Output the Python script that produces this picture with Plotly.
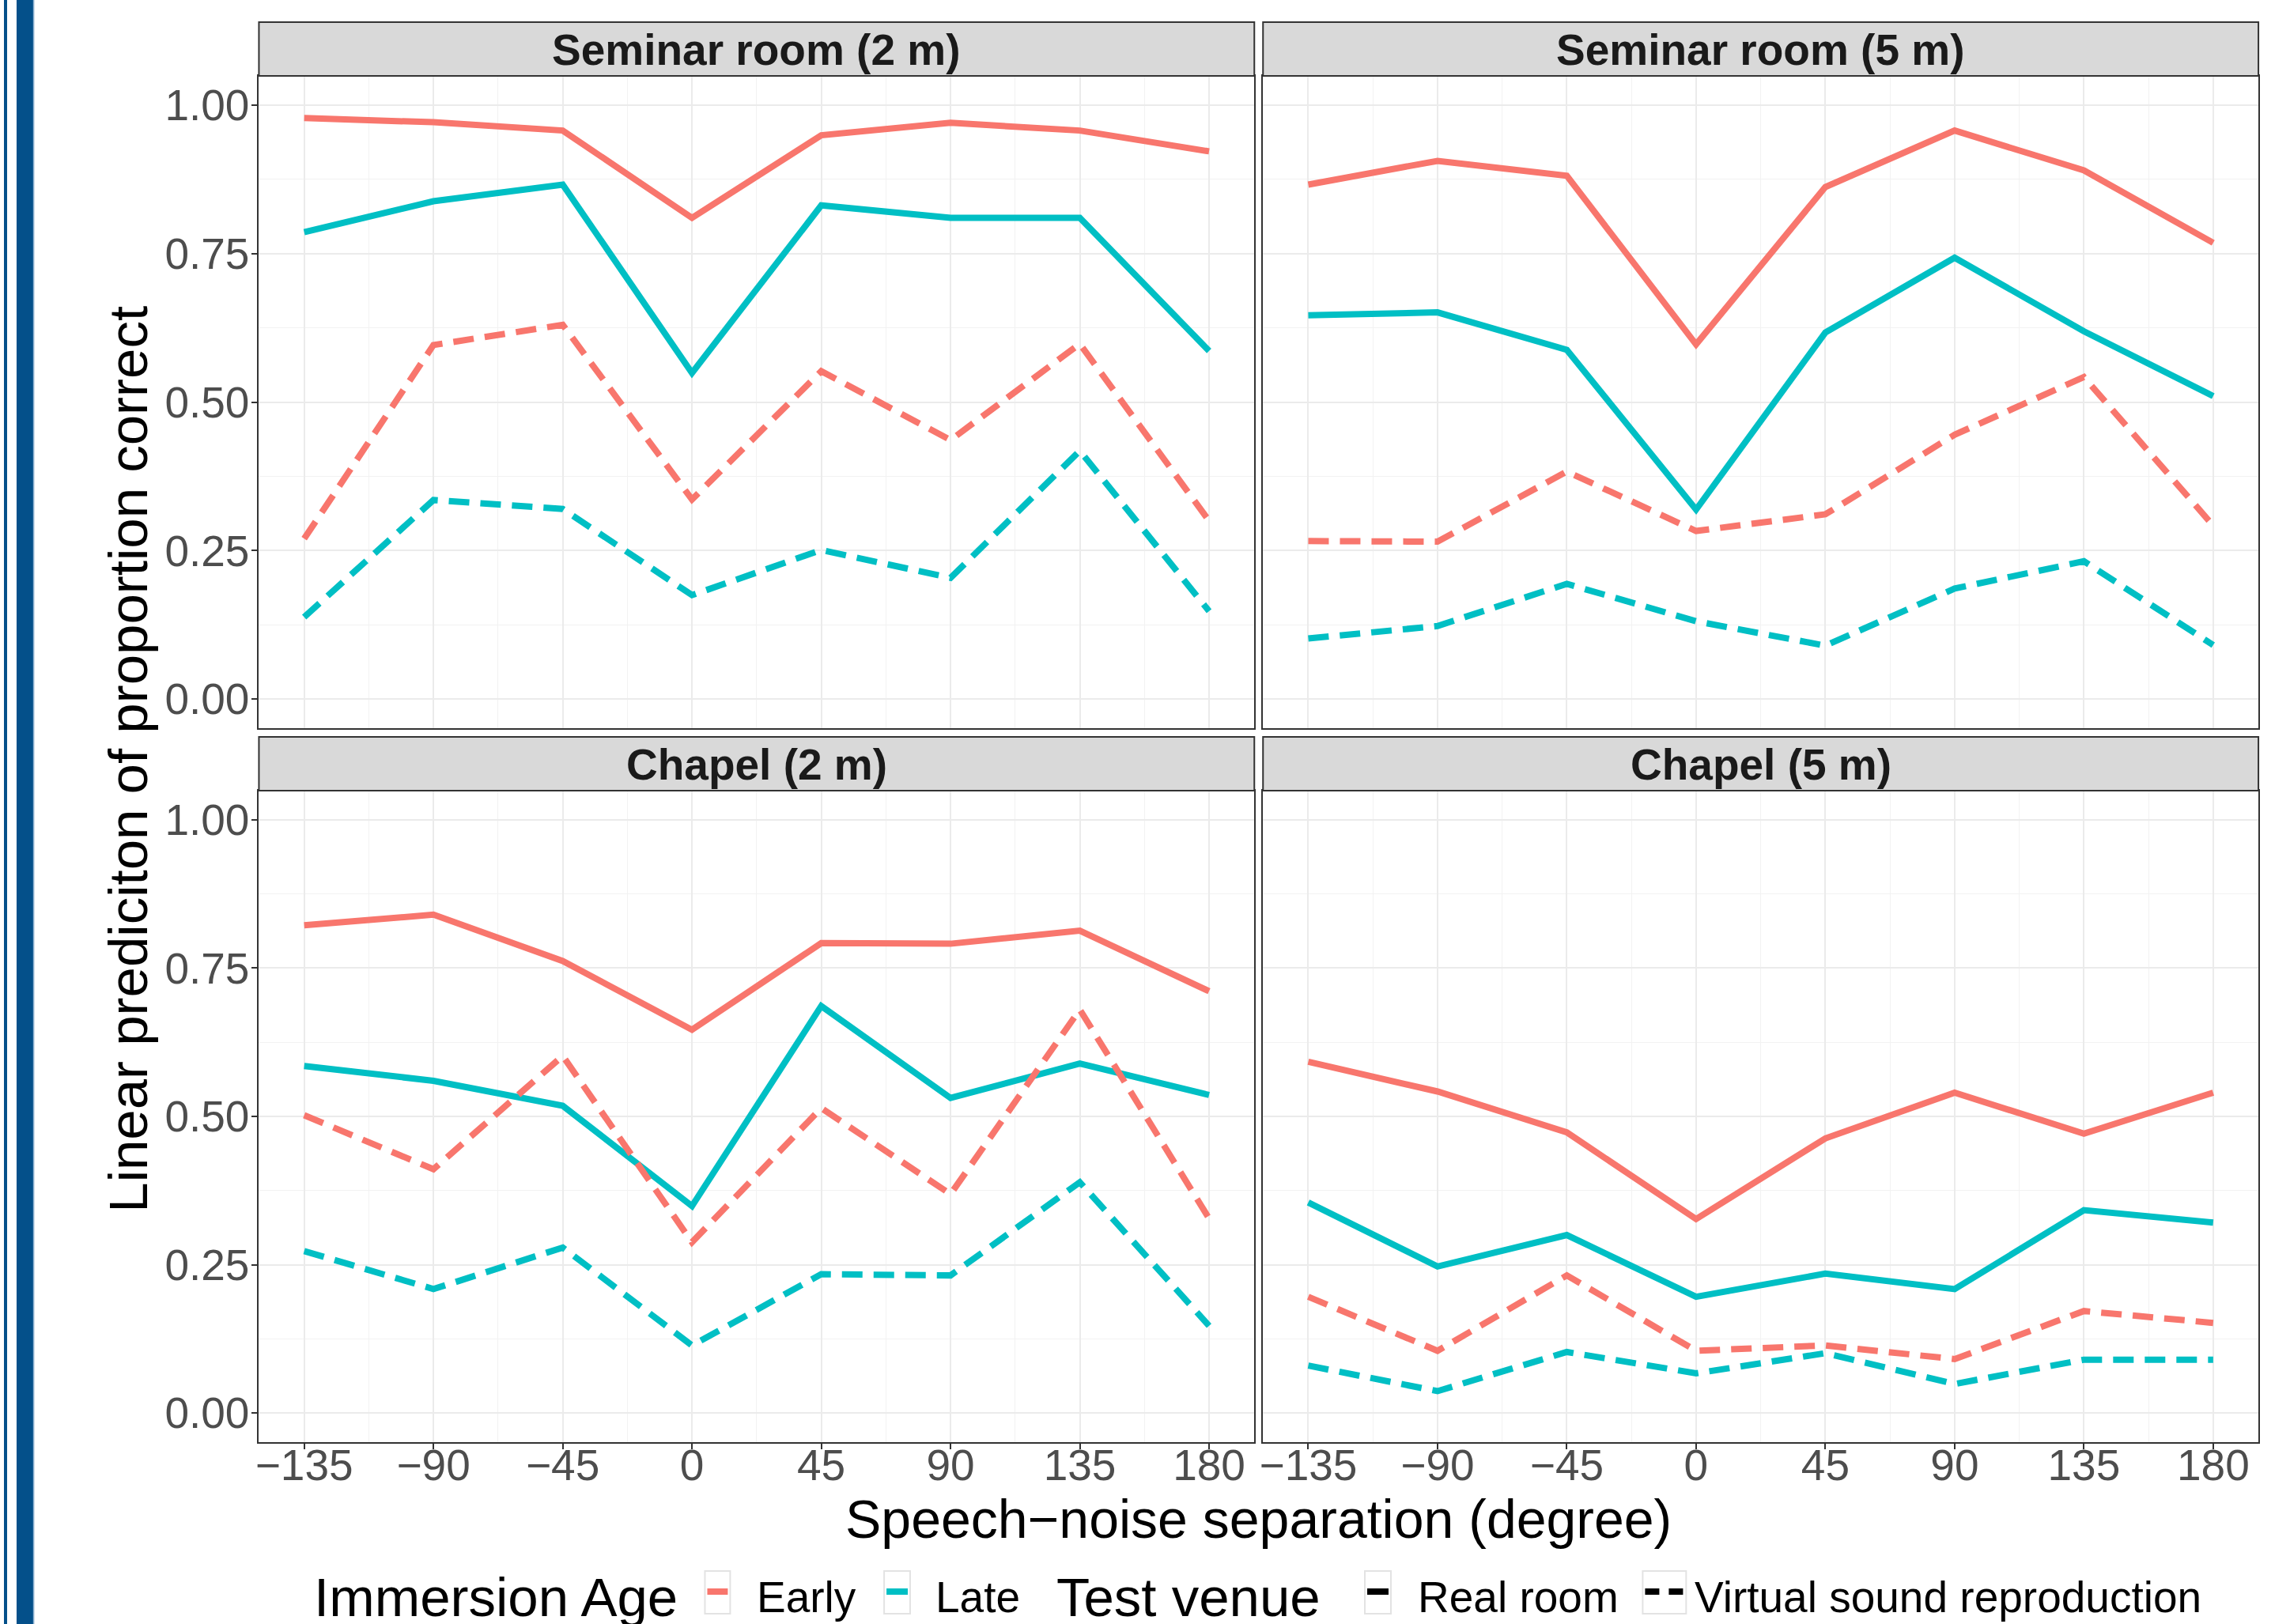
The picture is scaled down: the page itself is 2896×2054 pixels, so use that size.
import plotly.graph_objects as go

# ---------------- data ----------------
angles = [-135, -90, -45, 0, 45, 90, 135, 180]
angle_labels = ["\u2212135", "\u221290", "\u221245", "0", "45", "90", "135", "180"]
y_ticks = [0.0, 0.25, 0.5, 0.75, 1.0]
y_tick_labels = ["0.00", "0.25", "0.50", "0.75", "1.00"]
panels = ["Seminar room (2 m)", "Seminar room (5 m)", "Chapel (2 m)", "Chapel (5 m)"]
age_groups = ["Early", "Late"]
venues = ["Real room", "Virtual sound reproduction"]

seminar2_early_real = [0.978, 0.971, 0.957, 0.810, 0.949, 0.970, 0.957, 0.922]
seminar2_late_real = [0.786, 0.838, 0.866, 0.549, 0.831, 0.810, 0.810, 0.586]
seminar2_early_virtual = [0.270, 0.596, 0.630, 0.336, 0.552, 0.436, 0.598, 0.300]
seminar2_late_virtual = [0.138, 0.335, 0.320, 0.175, 0.251, 0.204, 0.418, 0.148]

seminar5_early_real = [0.866, 0.906, 0.881, 0.597, 0.862, 0.957, 0.890, 0.768]
seminar5_late_real = [0.646, 0.651, 0.588, 0.319, 0.617, 0.743, 0.619, 0.510]
seminar5_early_virtual = [0.266, 0.265, 0.383, 0.283, 0.311, 0.445, 0.542, 0.292]
seminar5_late_virtual = [0.102, 0.123, 0.194, 0.131, 0.090, 0.186, 0.232, 0.091]

chapel2_early_real = [0.822, 0.840, 0.762, 0.646, 0.792, 0.791, 0.813, 0.711]
chapel2_late_real = [0.585, 0.560, 0.518, 0.349, 0.686, 0.531, 0.589, 0.536]
chapel2_early_virtual = [0.502, 0.411, 0.602, 0.288, 0.514, 0.369, 0.680, 0.328]
chapel2_late_virtual = [0.273, 0.209, 0.279, 0.114, 0.234, 0.232, 0.389, 0.147]

chapel5_early_real = [0.592, 0.542, 0.473, 0.327, 0.463, 0.540, 0.471, 0.540]
chapel5_late_real = [0.355, 0.247, 0.300, 0.196, 0.235, 0.209, 0.342, 0.321]
chapel5_early_virtual = [0.196, 0.105, 0.232, 0.105, 0.114, 0.091, 0.172, 0.152]
chapel5_late_virtual = [0.080, 0.037, 0.103, 0.067, 0.101, 0.049, 0.090, 0.090]

panel_series = [
    [seminar2_early_real, seminar2_late_real, seminar2_early_virtual, seminar2_late_virtual],
    [seminar5_early_real, seminar5_late_real, seminar5_early_virtual, seminar5_late_virtual],
    [chapel2_early_real, chapel2_late_real, chapel2_early_virtual, chapel2_late_virtual],
    [chapel5_early_real, chapel5_late_real, chapel5_early_virtual, chapel5_late_virtual],
]
series_keys = [("Early", "Real room"), ("Late", "Real room"),
               ("Early", "Virtual sound reproduction"), ("Late", "Virtual sound reproduction")]

# ---------------- styling ----------------
W, H = 2896, 2054
FONT = "Liberation Sans, Arial, sans-serif"
age_colors = {"Early": "#F8766D", "Late": "#00BFC4"}
DASH = "26px,14px"
venue_dash = {"Real room": "solid", "Virtual sound reproduction": DASH}
LW = 8
TICK_SIZE = 55


def px(x):
    return x / W


def py(y):
    return 1 - y / H


col_px = [(323, 1584), (1595, 2856)]
row_px = [(96, 921), (1000, 1824)]
strip_px = [(28, 96), (932, 1000)]

fig = go.Figure()
layout = dict(
    width=W, height=H,
    margin=dict(l=0, r=0, t=0, b=0),
    paper_bgcolor="white", plot_bgcolor="white",
    showlegend=False,
    font=dict(family=FONT),
)

shapes = []
annotations = []

for i, name in enumerate(panels):
    r, c = divmod(i, 2)
    idx = "" if i == 0 else str(i + 1)
    xa, ya = "x" + idx, "y" + idx
    for vals, (age, venue) in zip(panel_series[i], series_keys):
        fig.add_trace(go.Scatter(
            x=angles, y=vals, mode="lines", xaxis=xa, yaxis=ya,
            line=dict(color=age_colors[age], width=LW, dash=venue_dash[venue]),
            name=f"{age} - {venue}",
        ))
    x0, x1 = col_px[c]
    y0, y1 = row_px[r]
    show_x = r == 1
    show_y = c == 0
    layout["xaxis" + idx] = dict(
        domain=[px(x0), px(x1)], anchor=ya, range=[-150.75, 195.75],
        tickmode="array", tickvals=angles, ticktext=angle_labels,
        showticklabels=show_x, ticks="outside" if show_x else "",
        ticklen=7, tickwidth=2, tickcolor="#333333",
        ticklabelstandoff=-27,
        tickfont=dict(size=TICK_SIZE, color="#4D4D4D", family=FONT),
        showgrid=True, gridcolor="#EBEBEB", gridwidth=2,
        minor=dict(tickmode="array",
                   tickvals=[(a + b) / 2 for a, b in zip(angles[:-1], angles[1:])],
                   showgrid=True, gridcolor="#F2F2F2", gridwidth=1, ticks=""),
        showline=True, mirror=True, linecolor="#333333", linewidth=2,
        zeroline=False, fixedrange=True,
    )
    layout["yaxis" + idx] = dict(
        domain=[py(y1), py(y0)], anchor=xa, range=[-0.049, 1.049],
        tickmode="array", tickvals=y_ticks, ticktext=y_tick_labels,
        showticklabels=show_y, ticks="outside" if show_y else "",
        ticklen=7, tickwidth=2, tickcolor="#333333",
        ticklabelstandoff=-8,
        tickfont=dict(size=TICK_SIZE, color="#4D4D4D", family=FONT),
        showgrid=True, gridcolor="#EBEBEB", gridwidth=2,
        minor=dict(tickmode="array", tickvals=[0.125, 0.375, 0.625, 0.875],
                   showgrid=True, gridcolor="#F2F2F2", gridwidth=1, ticks=""),
        showline=True, mirror=True, linecolor="#333333", linewidth=2,
        zeroline=False, fixedrange=True,
    )
    # strip
    s0, s1 = strip_px[r]
    shapes.append(dict(type="rect", xref="paper", yref="paper",
                       x0=px(x0), x1=px(x1), y0=py(s1), y1=py(s0),
                       fillcolor="#D9D9D9", line=dict(color="#333333", width=2)))
    annotations.append(dict(text=f"<b>{name}</b>", xref="paper", yref="paper",
                            x=px((x0 + x1) / 2), y=py((s0 + s1) / 2 + 1),
                            xanchor="center", yanchor="middle", showarrow=False,
                            font=dict(size=55, color="#1A1A1A", family=FONT)))

# left decorative blue bars
for a, b in [(0, 4), (16, 37)]:
    shapes.append(dict(type="rect", xref="paper", yref="paper",
                       x0=px(a), x1=px(b), y0=0, y1=1,
                       fillcolor="#04508A", line=dict(width=0), layer="above"))
shapes.append(dict(type="rect", xref="paper", yref="paper",
                   x0=px(37), x1=px(38.5), y0=0, y1=1,
                   fillcolor="#8FB3D1", line=dict(width=0)))

# axis titles
annotations.append(dict(text="Linear prediciton of proportion correct", xref="paper", yref="paper",
                        x=px(157), y=py(960), textangle=-90, xanchor="center", yanchor="middle",
                        showarrow=False, font=dict(size=69, color="black", family=FONT)))
annotations.append(dict(text="Speech\u2212noise separation (degree)", xref="paper", yref="paper",
                        x=px(1589), y=py(1921), xanchor="center", yanchor="middle",
                        showarrow=False, font=dict(size=68, color="black", family=FONT)))

# legend (manual)
LEG_Y = 2020
KEY_T, KEY_B = 1987, 2041
KEY_LINE_Y = 2013


def leg_text(t, x, size):
    annotations.append(dict(text=t, xref="paper", yref="paper", x=px(x), y=py(LEG_Y),
                            xanchor="left", yanchor="middle", showarrow=False,
                            font=dict(size=size, color="black", family=FONT)))


def leg_key(x0, x1, color, dash):
    shapes.append(dict(type="rect", xref="paper", yref="paper",
                       x0=px(x0), x1=px(x1), y0=py(KEY_B), y1=py(KEY_T),
                       fillcolor="white", line=dict(color="#E3E3E3", width=2)))
    shapes.append(dict(type="line", xref="paper", yref="paper",
                       x0=px(x0 + 3), x1=px(x1 - 3), y0=py(KEY_LINE_Y), y1=py(KEY_LINE_Y),
                       line=dict(color=color, width=LW, dash=dash)))


leg_text("Immersion Age", 391, 69)
leg_key(888, 920, age_colors["Early"], "solid")
leg_text(age_groups[0], 952, 55)
leg_key(1115, 1148, age_colors["Late"], "solid")
leg_text(age_groups[1], 1178, 55)
leg_text("Test venue", 1331, 69)
leg_key(1724, 1757, "black", "solid")
leg_text(venues[0], 1789, 55)
leg_key(2076, 2131, "black", "18px,12px")
leg_text(venues[1], 2140, 55)

layout["shapes"] = shapes
layout["annotations"] = annotations
fig.update_layout(**layout)
fig.write_html("out.html", config={"displayModeBar": False},
               post_script="document.body.style.margin='0px';")
